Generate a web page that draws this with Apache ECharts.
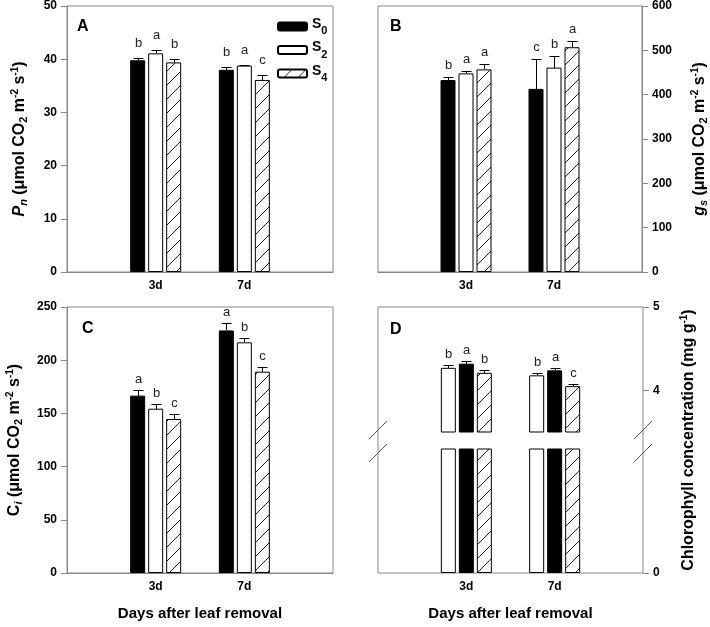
<!DOCTYPE html>
<html>
<head>
<meta charset="utf-8">
<title>Leaf removal</title>
<script src="https://cdn.jsdelivr.net/npm/echarts@6.0.0/dist/echarts.min.js"></script>
<style>
html, body { margin: 0; padding: 0; background: #fff; }
#main { width: 710px; height: 627px; }
</style>
</head>
<body>
<div id="main"></div>
<script>
var days = ['', '3d', '7d', ''];
var treatments = ['S0', 'S2', 'S4'];

// A: net photosynthesis (3d, 7d)
var pnS0 = [39.8, 38.0], pnS0Err = [0.5, 0.5], pnS0Sig = ['b', 'b'];
var pnS2 = [41.1, 38.8], pnS2Err = [0.6, 0.15], pnS2Sig = ['a', 'a'];
var pnS4 = [39.4, 36.1], pnS4Err = [0.6, 0.9], pnS4Sig = ['b', 'c'];

// B: stomatal conductance
var gsS0 = [433, 413], gsS0Err = [6, 68], gsS0Sig = ['b', 'c'];
var gsS2 = [448, 461], gsS2Err = [5, 26], gsS2Sig = ['a', 'b'];
var gsS4 = [457, 507], gsS4Err = [12, 15], gsS4Sig = ['a', 'a'];

// C: intercellular CO2
var ciS0 = [166.7, 228], ciS0Err = [5.6, 7], ciS0Sig = ['a', 'a'];
var ciS2 = [154.4, 216.8], ciS2Err = [4.7, 4.4], ciS2Sig = ['b', 'b'];
var ciS4 = [144.7, 189.2], ciS4Err = [5, 4.4], ciS4Sig = ['c', 'c'];

// D: chlorophyll (drawn white, black, hatched)
var chlS2 = [4.27, 4.18], chlS2Err = [0.04, 0.03], chlS2Sig = ['b', 'b'];
var chlS0 = [4.32, 4.24], chlS0Err = [0.036, 0.025], chlS0Sig = ['a', 'a'];
var chlS4 = [4.21, 4.05], chlS4Err = [0.032, 0.028], chlS4Sig = ['b', 'c'];

var FONT = '"Liberation Sans", Arial, sans-serif';
var GREY = '#888';
var BAR_W = 15, BAR_GAP = 3;

// layout
var LX = 67, RX = 378, PW = 266, TY = 6, BY = 307, PH = 266;
var DU_H = 125, DL_TOP = 449, DL_H = 124;

function hatch() {
    var c = document.createElement('canvas');
    c.width = 14; c.height = 14;
    var g = c.getContext('2d');
    g.fillStyle = '#fff';
    g.fillRect(0, 0, 14, 14);
    g.strokeStyle = '#222';
    g.lineWidth = 1;
    g.beginPath();
    g.moveTo(0, 14); g.lineTo(14, 0);
    g.moveTo(-2, 2); g.lineTo(2, -2);
    g.moveTo(12, 16); g.lineTo(16, 12);
    g.stroke();
    return c;
}
var fills = { S0: '#000', S2: '#fff', S4: { image: hatch(), repeat: 'repeat' } };

function pad(a) { return [null, a[0], a[1], null]; }

var sub = { fontSize: 11, fontWeight: 'bold', padding: [8, 0, 0, 0] };
var subI = { fontSize: 11, fontWeight: 'bold', fontStyle: 'italic', padding: [8, 0, 0, 0] };
var sup = { fontSize: 10, fontWeight: 'bold', padding: [0, 0, 9, 0] };
var titleRich = {
    n: { fontSize: 16, fontWeight: 'bold' },
    i: { fontSize: 16, fontWeight: 'bold', fontStyle: 'italic' },
    sub: sub, subI: subI, sup: sup
};
var unitTail = '{n| (μmol CO}{sub|2}{n| m}{sup|-2}{n| s}{sup|-1}{n|)}';
var tickFont = { fontSize: 12, fontWeight: 'bold', color: '#000', fontFamily: FONT };

function xAx(grid, opts) {
    var a = {
        type: 'category', gridIndex: grid, data: days, boundaryGap: false,
        axisLine: { lineStyle: { color: GREY, width: 1 } },
        axisTick: { show: false },
        axisLabel: Object.assign({ interval: 0, margin: 8 }, tickFont),
        nameLocation: 'middle', nameGap: 33,
        nameTextStyle: { fontSize: 15, fontWeight: 'bold', color: '#000', fontFamily: FONT }
    };
    return Object.assign(a, opts || {});
}

function yAx(grid, opts) {
    var a = {
        type: 'value', gridIndex: grid,
        splitLine: { show: false },
        axisLine: { show: true, lineStyle: { color: GREY, width: 1 } },
        axisTick: { show: true, inside: false, length: 6, lineStyle: { color: GREY } },
        axisLabel: Object.assign({ margin: 10 }, tickFont),
        nameLocation: 'middle', nameRotate: 90,
        nameTextStyle: { color: '#000', fontFamily: FONT, rich: titleRich }
    };
    return Object.assign(a, opts || {});
}

function errRender(sigs, gap) {
    return function (params, api) {
        var slot = api.value(3);
        var p0 = api.coord([api.value(0), api.value(1)]);
        var p1 = api.coord([api.value(0), api.value(1) + api.value(2)]);
        var x = Math.round(p0[0] + (slot - 1) * (BAR_W + BAR_GAP)) + 0.5;
        var y0 = Math.round(p0[1]);
        var y1 = Math.round(p1[1]) + 0.5;
        return {
            type: 'group',
            children: [
                { type: 'line', shape: { x1: x, y1: y0, x2: x, y2: y1 }, style: { stroke: '#000', lineWidth: 1 } },
                { type: 'line', shape: { x1: x - 5, y1: y1, x2: x + 5, y2: y1 }, style: { stroke: '#000', lineWidth: 1 } },
                { type: 'text', style: { text: sigs[params.dataIndex], x: x, y: y1 - gap, align: 'center', verticalAlign: 'bottom', fontSize: 13, fontFamily: FONT, fill: '#222' } }
            ]
        };
    };
}

// groups: [[name, values, errs, sigs], ...] in drawn order
function panelSeries(xi, yi, groups, gap, barsOnly) {
    var out = [];
    groups.forEach(function (g) {
        out.push({
            type: 'bar', name: g[0], xAxisIndex: xi, yAxisIndex: yi,
            data: pad(g[1]), barWidth: BAR_W, barGap: (BAR_GAP / BAR_W * 100) + '%',
            itemStyle: { color: fills[g[0]], borderColor: '#000', borderWidth: 1 },
            emphasis: { disabled: true }, silent: true
        });
    });
    if (barsOnly) return out;
    var data = [], sigs = [];
    groups.forEach(function (g, k) {
        for (var d = 0; d < 2; d++) {
            data.push([d + 1, g[1][d], g[2][d], k]);
            sigs.push(g[3][d]);
        }
    });
    out.push({
        type: 'custom', xAxisIndex: xi, yAxisIndex: yi, z: 5, silent: true,
        renderItem: errRender(sigs, gap), data: data
    });
    return out;
}

var series = [].concat(
    panelSeries(0, 0, [['S0', pnS0, pnS0Err, pnS0Sig], ['S2', pnS2, pnS2Err, pnS2Sig], ['S4', pnS4, pnS4Err, pnS4Sig]], 9),
    panelSeries(1, 1, [['S0', gsS0, gsS0Err, gsS0Sig], ['S2', gsS2, gsS2Err, gsS2Sig], ['S4', gsS4, gsS4Err, gsS4Sig]], 6),
    panelSeries(2, 2, [['S0', ciS0, ciS0Err, ciS0Sig], ['S2', ciS2, ciS2Err, ciS2Sig], ['S4', ciS4, ciS4Err, ciS4Sig]], 5),
    panelSeries(4, 4, [['S2', chlS2, chlS2Err, chlS2Sig], ['S0', chlS0, chlS0Err, chlS0Sig], ['S4', chlS4, chlS4Err, chlS4Sig]], 5),
    panelSeries(5, 5, [['S2', chlS2, chlS2Err, chlS2Sig], ['S0', chlS0, chlS0Err, chlS0Sig], ['S4', chlS4, chlS4Err, chlS4Sig]], 5, true)
);

function frame(left, top, w, h) {
    return { left: left, top: top, width: w, height: h, show: true, borderColor: GREY, borderWidth: 1, backgroundColor: 'transparent', containLabel: false };
}

// break marks on the chlorophyll panel
var breakMarks = [];
[RX, RX + PW - 1].forEach(function (x) {
    [BY + DU_H - 2, DL_TOP + 4].forEach(function (y) {
        breakMarks.push({
            type: 'line', silent: true,
            shape: { x1: x - 9, y1: y + 9, x2: x + 9, y2: y - 9 },
            style: { stroke: '#555', lineWidth: 1 }
        });
    });
});

function panelLetter(t, x, y) {
    return { type: 'text', left: x, top: y, silent: true,
        style: { text: t, fontSize: 16, fontWeight: 'bold', fontFamily: FONT, fill: '#000' } };
}

var chart = echarts.init(document.getElementById('main'), null, { renderer: 'canvas' });
chart.setOption({
    animation: false,
    backgroundColor: '#fff',
    textStyle: { fontFamily: FONT },
    grid: [
        frame(LX, TY, PW, PH),
        frame(RX, TY, PW - 1, PH),
        frame(LX, BY, PW, PH),
        frame(RX, BY, PW - 1, PH),
        { left: RX, top: BY, width: PW - 1, height: DU_H, show: false },
        { left: RX, top: DL_TOP, width: PW - 1, height: DL_H, show: false }
    ],
    xAxis: [
        xAx(0),
        xAx(1),
        xAx(2, { name: 'Days after leaf removal' }),
        xAx(3, { show: false }),
        xAx(4, { show: false }),
        xAx(5, { axisLine: { show: false }, name: 'Days after leaf removal' })
    ],
    yAxis: [
        yAx(0, { min: 0, max: 50, interval: 10, nameGap: 38,
            name: '{i|P}{subI|n}' + unitTail }),
        yAx(1, { min: 0, max: 600, interval: 100, position: 'right', nameGap: 48,
            name: '{i|g}{subI|s}' + unitTail }),
        yAx(2, { min: 0, max: 250, interval: 50, nameGap: 43,
            name: '{n|C}{subI|i}' + unitTail }),
        yAx(3, { min: 0, max: 1, position: 'right', nameGap: 36,
            axisLine: { show: false }, axisTick: { show: false }, axisLabel: { show: false },
            name: '{n|Chlorophyll concentration (mg g}{sup|-1}{n|)}' }),
        yAx(4, { min: 3.5, max: 5, position: 'right', axisLine: { show: false },
            axisTick: { show: true, length: 6, lineStyle: { color: GREY }, customValues: [4, 5] },
            axisLabel: Object.assign({ margin: 10, customValues: [4, 5] }, tickFont) }),
        yAx(5, { min: 0, max: 1.5, position: 'right', axisLine: { show: false },
            axisTick: { show: true, length: 6, lineStyle: { color: GREY }, customValues: [0] },
            axisLabel: Object.assign({ margin: 10, customValues: [0] }, tickFont) })
    ],
    legend: {
        data: treatments, orient: 'vertical', left: 272, top: 12,
        itemWidth: 29, itemHeight: 8, itemGap: 4,
        formatter: function (name) { return '{s|S}{sb|' + name.slice(1) + '}'; },
        textStyle: {
            color: '#000', fontFamily: FONT,
            rich: {
                s: { fontSize: 14, fontWeight: 'bold', padding: [0, 0, 5, 0] },
                sb: { fontSize: 11, fontWeight: 'bold', padding: [9, 0, 0, 0] }
            }
        },
        selectedMode: false
    },
    graphic: breakMarks.concat([
        panelLetter('A', LX + 10, TY + 13),
        panelLetter('B', RX + 12, TY + 13),
        panelLetter('C', LX + 15, BY + 14),
        panelLetter('D', RX + 12, BY + 15)
    ]),
    series: series
});
</script>
</body>
</html>
